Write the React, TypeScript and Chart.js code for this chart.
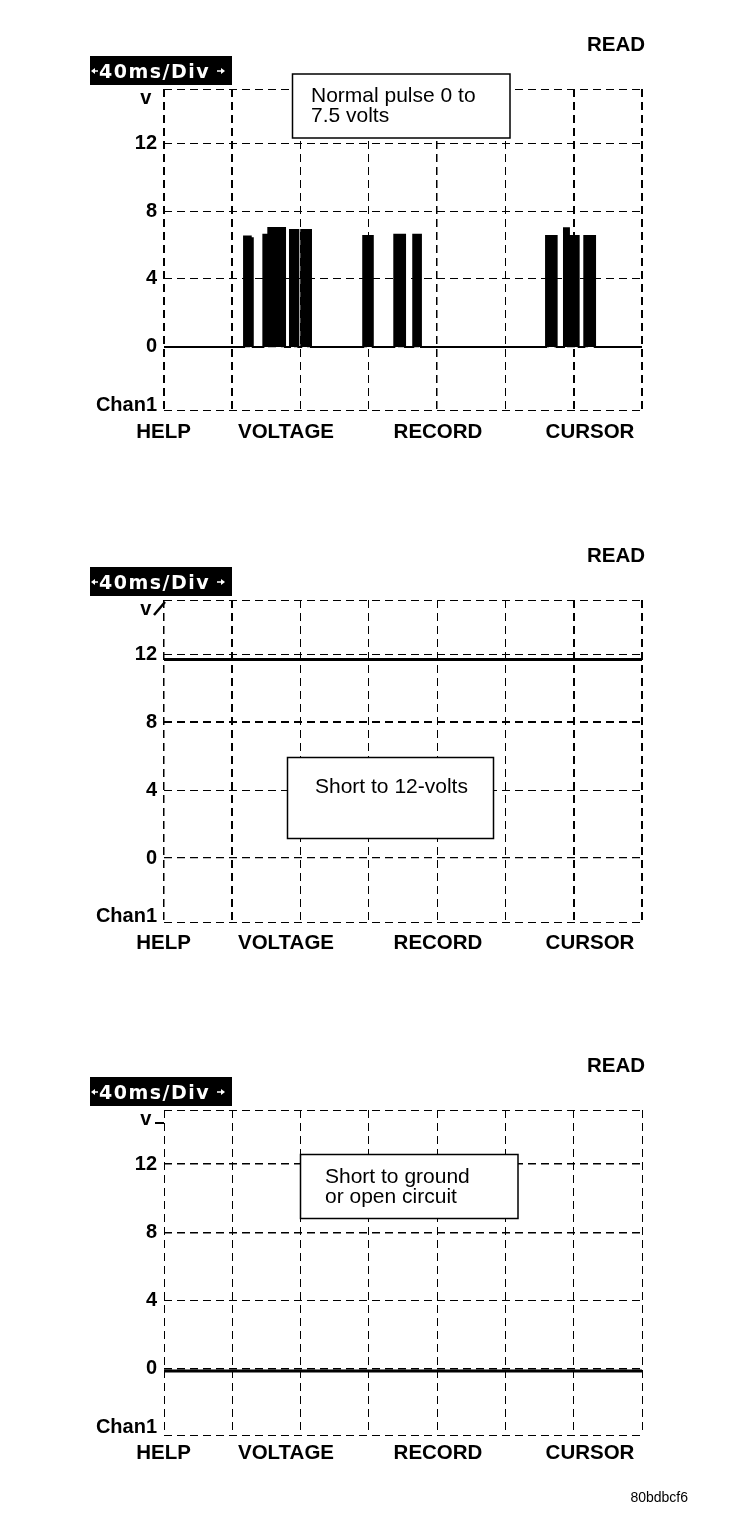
import React, { useEffect, useRef } from 'react';
import { Chart, registerables } from 'chart.js';

Chart.register(...registerables);

// ---- data ----
const timeTicks = [0, 40, 80, 120, 160, 200, 240, 280]; // ms, 40ms/Div
const voltTicks = [0, 4, 8, 12];
const voltTickLabels = ['0', '4', '8', '12'];
const voltMax = 15.18;
const voltMinByPanel = [-3.71, -3.76, -3.88];
const topLabel = 'v ';
const topLabelVolt = 14.6;
const bottomLabel = 'Chan1';
const bottomLabelVolt = -3.45;

// Panel 1: normal pulses (start ms, end ms, volts)
const pulseStart = [46.9, 50.8, 58.2, 61.1, 73.8, 80.4, 116.7, 134.9, 146.0, 223.8, 234.3, 237.2, 246.2];
const pulseEnd = [50.8, 52.0, 61.1, 70.9, 78.7, 86.1, 122.3, 141.2, 150.5, 230.0, 237.2, 242.9, 252.5];
const pulseVolts = [6.5, 6.4, 6.6, 7.0, 6.88, 6.88, 6.53, 6.6, 6.6, 6.53, 6.98, 6.53, 6.53];

// Panels 2 and 3: flat traces
const flatTimes = [0, 280];
const shortTo12Volts = [11.68, 11.68];
const shortToGroundVolts = [-0.12, -0.12];

const softKeys = ['HELP', 'VOLTAGE', 'RECORD', 'CURSOR'];
const noteTexts = [
  ['Normal pulse 0 to', '7.5 volts'],
  ['Short to 12-volts'],
  ['Short to ground', 'or open circuit'],
];
const footerText = '80bdbcf6';

// ---- build ----
function pulsePoints() {
  const pts: { x: number; y: number }[] = [{ x: 0, y: 0 }];
  for (let i = 0; i < pulseStart.length; i++) {
    pts.push({ x: pulseStart[i], y: 0 });
    pts.push({ x: pulseStart[i], y: pulseVolts[i] });
    pts.push({ x: pulseEnd[i], y: pulseVolts[i] });
    pts.push({ x: pulseEnd[i], y: 0 });
  }
  pts.push({ x: 280, y: 0 });
  return pts;
}
function flatPoints(vals: number[]) {
  return flatTimes.map((t, i) => ({ x: t, y: vals[i] }));
}

const FONT = '"Liberation Sans", Arial, sans-serif';

type PanelCfg = {
  offset: number;
  height: number;
  plotBottom: number;
  yMin: number;
  points: { x: number; y: number }[];
  fill: boolean;
  lineWidth: number;
  xWidths: number[];
  yWidths: number[];
  note: string[];
  noteBox: [number, number, number, number];
  noteX: number;
  noteBase: number;
  marker: 'none' | 'slash' | 'dash';
  footer: boolean;
};

const panels: PanelCfg[] = [
  {
    offset: 0, height: 500, plotBottom: 410, yMin: voltMinByPanel[0], points: pulsePoints(), fill: true, lineWidth: 2,
    xWidths: [2, 2, 1, 1, 1.5, 1, 2, 2], yWidths: [1, 0, 1.2, 1, 1, 1, 0, 1],
    note: noteTexts[0], noteBox: [292.5, 74, 217.5, 64], noteX: 311, noteBase: 101.5,
    marker: 'none', footer: false,
  },
  {
    offset: 511, height: 500, plotBottom: 411, yMin: voltMinByPanel[1], points: flatPoints(shortTo12Volts), fill: false, lineWidth: 3,
    xWidths: [1.5, 2, 1, 1, 1, 1, 2, 2], yWidths: [1, 0, 1.2, 1, 2, 1, 0, 1],
    note: noteTexts[1], noteBox: [287.5, 246.5, 206, 81], noteX: 315, noteBase: 282,
    marker: 'slash', footer: false,
  },
  {
    offset: 1021, height: 493, plotBottom: 414, yMin: voltMinByPanel[2], points: flatPoints(shortToGroundVolts), fill: false, lineWidth: 3,
    xWidths: [1, 1, 1, 1, 1, 1, 1, 1], yWidths: [1, 0, 1.5, 1, 1.6, 1.6, 0, 1],
    note: noteTexts[2], noteBox: [300.5, 133.5, 217.5, 64], noteX: 325, noteBase: 162,
    marker: 'dash', footer: true,
  },
];

const yTickLabels = ['', bottomLabel, ...voltTickLabels, topLabel, ''];

function drawArrow(ctx: CanvasRenderingContext2D, x0: number, x1: number, y: number) {
  const dir = Math.sign(x1 - x0);
  ctx.beginPath();
  ctx.moveTo(x0, y);
  ctx.lineTo(x1 - dir * 2, y);
  ctx.stroke();
  ctx.beginPath();
  ctx.moveTo(x1, y);
  ctx.lineTo(x1 - dir * 4, y - 3);
  ctx.lineTo(x1 - dir * 4, y + 3);
  ctx.closePath();
  ctx.fill();
}

function makeOverlay(cfg: PanelCfg) {
  return {
    id: 'overlay',
    afterDraw(chart: any) {
      const ctx: CanvasRenderingContext2D = chart.ctx;
      ctx.save();
      ctx.fillStyle = '#000';
      ctx.textBaseline = 'alphabetic';
      // READ
      ctx.font = `bold 20.5px ${FONT}`;
      ctx.textAlign = 'right';
      ctx.fillText('READ', 645, 51);
      // time-base box
      ctx.fillRect(90, 56, 142, 29);
      ctx.fillStyle = '#fff';
      ctx.strokeStyle = '#fff';
      ctx.textAlign = 'left';
      ctx.font = 'bold 19px "DejaVu Sans"';
      (ctx as any).letterSpacing = '1.5px';
      ctx.fillText('40ms/Div', 99, 77.5);
      (ctx as any).letterSpacing = '0px';
      ctx.lineWidth = 1.5;
      drawArrow(ctx, 98, 91, 71);
      drawArrow(ctx, 217, 225, 71);
      // soft keys
      ctx.fillStyle = '#000';
      ctx.strokeStyle = '#000';
      ctx.font = `bold 20.5px ${FONT}`;
      ctx.textAlign = 'center';
      const keyX = [163.5, 286, 438, 590];
      softKeys.forEach((k, i) => ctx.fillText(k, keyX[i], 438));
      // marker near "v"
      if (cfg.marker === 'slash') {
        ctx.lineWidth = 2.5;
        ctx.beginPath();
        ctx.moveTo(154, 104);
        ctx.lineTo(165, 91);
        ctx.stroke();
      } else if (cfg.marker === 'dash') {
        ctx.lineWidth = 2;
        ctx.beginPath();
        ctx.moveTo(155, 102);
        ctx.lineTo(164, 102);
        ctx.stroke();
      }
      // note box
      const [bx, by, bw, bh] = cfg.noteBox;
      ctx.fillStyle = '#fff';
      ctx.fillRect(bx, by, bw, bh);
      ctx.lineWidth = 1.5;
      ctx.strokeRect(bx, by, bw, bh);
      ctx.fillStyle = '#000';
      ctx.textAlign = 'left';
      ctx.font = `21px ${FONT}`;
      cfg.note.forEach((line, i) => ctx.fillText(line, cfg.noteX, cfg.noteBase + i * 20));
      if (cfg.footer) {
        ctx.font = `14px ${FONT}`;
        ctx.textAlign = 'right';
        ctx.fillText(footerText, 688, 481);
      }
      ctx.restore();
    },
  };
}

function Panel({ cfg }: { cfg: PanelCfg }) {
  const ref = useRef<HTMLCanvasElement>(null);
  useEffect(() => {
    if (!ref.current) return;
    const yTickValues = [cfg.yMin, bottomLabelVolt, ...voltTicks, topLabelVolt, voltMax];
    const chart = new Chart(ref.current, {
      type: 'line',
      data: {
        datasets: [
          {
            data: cfg.points,
            borderColor: '#000',
            backgroundColor: '#000',
            borderWidth: cfg.lineWidth,
            pointRadius: 0,
            tension: 0,
            fill: cfg.fill ? 'origin' : false,
          } as any,
        ],
      },
      options: {
        responsive: false,
        animation: false,
        devicePixelRatio: 1,
        layout: { padding: { top: 89, bottom: cfg.height - cfg.plotBottom, left: 0, right: 94 } },
        plugins: { legend: { display: false }, tooltip: { enabled: false } },
        scales: {
          x: {
            type: 'linear',
            min: 0,
            max: 280,
            afterBuildTicks: (s: any) => {
              s.ticks = timeTicks.map((v) => ({ value: v }));
            },
            afterFit: (s: any) => {
              s.height = 0;
            },
            ticks: { display: false },
            grid: {
              color: '#000',
              drawTicks: false,
              lineWidth: (c: any) => cfg.xWidths[c.index] ?? 1,
            },
            border: { display: false, dash: [8, 5] },
          },
          y: {
            type: 'linear',
            min: cfg.yMin,
            max: voltMax,
            afterBuildTicks: (s: any) => {
              s.ticks = yTickValues.map((v) => ({ value: v }));
            },
            afterFit: (s: any) => {
              s.width = 164;
            },
            ticks: {
              autoSkip: false,
              padding: 7,
              color: '#000',
              font: { family: FONT, size: 20, weight: 'bold' },
              callback: (_v: any, i: number) => yTickLabels[i],
            },
            grid: {
              drawTicks: false,
              color: (c: any) => (cfg.yWidths[c.index] === 0 ? 'rgba(0,0,0,0)' : '#000'),
              lineWidth: (c: any) => cfg.yWidths[c.index] || 1,
            },
            border: { display: false, dash: [8, 5] },
          },
        },
      } as any,
      plugins: [makeOverlay(cfg)],
    });
    return () => chart.destroy();
  }, [cfg]);
  return (
    <canvas
      ref={ref}
      width={736}
      height={cfg.height}
      style={{ position: 'absolute', left: 0, top: cfg.offset, width: 736, height: cfg.height }}
    />
  );
}

export default function App() {
  return (
    <div
      style={{
        position: 'absolute',
        left: 0,
        top: 0,
        width: 736,
        height: 1514,
        overflow: 'hidden',
        background: '#fff',
      }}
    >
      {panels.map((p, i) => (
        <Panel key={i} cfg={p} />
      ))}
    </div>
  );
}
